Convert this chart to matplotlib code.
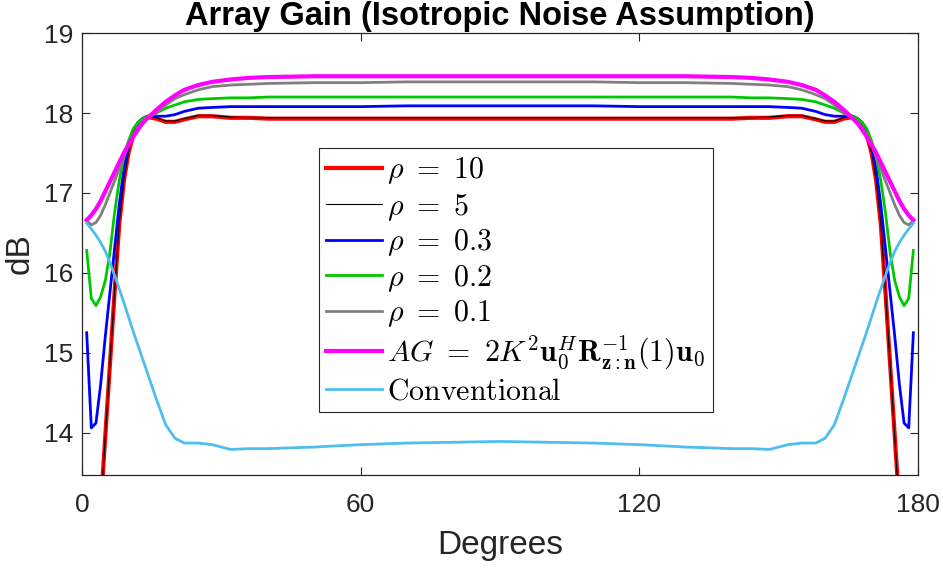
import matplotlib.pyplot as plt

plt.rcParams['font.family'] = ['Liberation Sans', 'DejaVu Sans']
plt.rcParams['mathtext.fontset'] = 'cm'

deg = [1, 2, 3, 4, 5, 6, 7, 8, 9, 10, 11, 12, 13, 14, 16, 18, 20, 22, 25, 28, 32, 36, 40,
       50, 60, 70, 80, 90, 100, 110, 120, 130,
       140, 144, 148, 152, 155, 158, 160, 162, 164,
       166, 167, 168, 169, 170, 171, 172, 173, 174, 175, 176, 177, 178, 179]

rho10 = [10.1, 11.1, 12.1, 13.05, 13.95, 14.85, 15.75, 16.6, 17.15, 17.5, 17.72, 17.85, 17.92, 17.95,
         17.93, 17.89, 17.89, 17.92, 17.96, 17.96, 17.94, 17.94, 17.93, 17.93, 17.93, 17.93, 17.93, 17.93,
         17.93, 17.93, 17.93, 17.93, 17.93, 17.94, 17.94, 17.96, 17.96, 17.92, 17.89, 17.89, 17.93,
         17.95, 17.92, 17.85, 17.72, 17.5, 17.15, 16.6, 15.75, 14.85, 13.95, 13.05, 12.1, 11.1, 10.1]
rho5 = [10.0, 11.05, 12.08, 13.03, 13.94, 14.85, 15.76, 16.62, 17.16, 17.51, 17.73, 17.86, 17.93, 17.96,
        17.94, 17.9, 17.9, 17.93, 17.97, 17.97, 17.95, 17.94, 17.94, 17.94, 17.94, 17.94, 17.94, 17.94,
        17.94, 17.94, 17.94, 17.94, 17.94, 17.94, 17.95, 17.97, 17.97, 17.93, 17.9, 17.9, 17.94,
        17.96, 17.93, 17.86, 17.73, 17.51, 17.16, 16.62, 15.76, 14.85, 13.94, 13.03, 12.08, 11.05, 10.0]
rho03 = [15.25, 14.06, 14.12, 14.6, 15.2, 15.75, 16.3, 16.85, 17.3, 17.6, 17.78, 17.88, 17.93, 17.96,
         17.96, 17.96, 17.98, 18.02, 18.06, 18.07, 18.08, 18.08, 18.08, 18.08, 18.08, 18.09, 18.09, 18.09,
         18.09, 18.09, 18.08, 18.08, 18.08, 18.08, 18.08, 18.07, 18.06, 18.02, 17.98, 17.96, 17.96,
         17.96, 17.93, 17.88, 17.78, 17.6, 17.3, 16.85, 16.3, 15.75, 15.2, 14.6, 14.12, 14.06, 15.25]
rho02 = [16.28, 15.68, 15.59, 15.7, 15.9, 16.25, 16.75, 17.15, 17.45, 17.65, 17.8, 17.88, 17.93, 17.96,
         18.0, 18.06, 18.1, 18.14, 18.17, 18.18, 18.19, 18.19, 18.2, 18.2, 18.2, 18.2, 18.2, 18.2,
         18.2, 18.2, 18.2, 18.2, 18.2, 18.19, 18.19, 18.18, 18.17, 18.14, 18.1, 18.06, 18.0,
         17.96, 17.93, 17.88, 17.8, 17.65, 17.45, 17.15, 16.75, 16.25, 15.9, 15.7, 15.59, 15.68, 16.28]
rho01 = [16.65, 16.6, 16.63, 16.72, 16.85, 17.0, 17.15, 17.3, 17.45, 17.6, 17.72, 17.82, 17.89, 17.94,
         18.0, 18.1, 18.18, 18.23, 18.29, 18.33, 18.35, 18.36, 18.37, 18.38, 18.38, 18.39, 18.39, 18.39,
         18.39, 18.39, 18.38, 18.38, 18.37, 18.36, 18.35, 18.33, 18.29, 18.23, 18.18, 18.1, 18.0,
         17.94, 17.89, 17.82, 17.72, 17.6, 17.45, 17.3, 17.15, 17.0, 16.85, 16.72, 16.63, 16.6, 16.65]
ag = [16.66, 16.72, 16.8, 16.9, 17.02, 17.14, 17.26, 17.38, 17.5, 17.6, 17.7, 17.79, 17.87, 17.93,
      18.04, 18.14, 18.22, 18.29, 18.35, 18.39, 18.42, 18.44, 18.45, 18.46, 18.46, 18.46, 18.46, 18.46,
      18.46, 18.46, 18.46, 18.46, 18.45, 18.44, 18.42, 18.39, 18.35, 18.29, 18.22, 18.14, 18.04,
      17.93, 17.87, 17.79, 17.7, 17.6, 17.5, 17.38, 17.26, 17.14, 17.02, 16.9, 16.8, 16.72, 16.66]
conv = [16.62, 16.55, 16.47, 16.38, 16.27, 16.13, 15.97, 15.8, 15.63, 15.45, 15.27, 15.1, 14.93, 14.76,
        14.42, 14.1, 13.93, 13.87, 13.87, 13.85, 13.79, 13.8, 13.8, 13.82, 13.85, 13.87, 13.88, 13.89,
        13.88, 13.87, 13.85, 13.82, 13.8, 13.8, 13.79, 13.85, 13.87, 13.87, 13.93, 14.1, 14.42,
        14.76, 14.93, 15.1, 15.27, 15.45, 15.63, 15.8, 15.97, 16.13, 16.27, 16.38, 16.47, 16.55, 16.62]

labels = [r'$\rho\ =\ 10$', r'$\rho\ =\ 5$', r'$\rho\ =\ 0.3$', r'$\rho\ =\ 0.2$', r'$\rho\ =\ 0.1$',
          r'$AG\ =\ 2K^2\mathbf{u}_0^H\mathbf{R}_{\mathbf{z:n}}^{-1}(1)\mathbf{u}_0$',
          r'$\mathrm{Conventional}$']

fig = plt.figure(figsize=(9.43, 5.68), dpi=100)
ax = fig.add_axes([0.087, 0.1637, 0.8865, 0.778])

ax.plot(deg, rho10, color='#ff0000', lw=3.0, label=labels[0])
ax.plot(deg, rho5, color='black', lw=0.8, label=labels[1])
ax.plot(deg, rho03, color='#0000ff', lw=2.0, label=labels[2])
ax.plot(deg, rho02, color='#00c800', lw=2.0, label=labels[3])
ax.plot(deg, rho01, color='#808080', lw=2.0, label=labels[4])
ax.plot(deg, ag, color='#ff00ff', lw=3.0, label=labels[5])
ax.plot(deg, conv, color='#4dbeee', lw=2.0, label=labels[6])

ax.set_xlim(0, 180)
ax.set_ylim(13.47, 19)
ax.set_xticks([0, 60, 120, 180])
ax.set_yticks([14, 15, 16, 17, 18, 19])
ax.tick_params(direction='in', length=6, width=0.8, labelsize=19, colors='#262626',
               top=True, right=True)
ax.tick_params(axis='x', pad=13)
ax.tick_params(axis='y', pad=6)
for s in ax.spines.values():
    s.set_color('#262626')
    s.set_linewidth(0.9)

ax.set_xlabel('Degrees', fontsize=24, color='#262626', labelpad=9)
ax.set_ylabel('dB', fontsize=24, color='#262626', labelpad=6)
ax.set_title('Array Gain (Isotropic Noise Assumption)', fontsize=23.5, fontweight='bold', pad=6)

leg = ax.legend(loc='upper left', bbox_to_anchor=(319 / 943, 1 - 148 / 568),
                bbox_transform=fig.transFigure, fontsize=21.5, fancybox=False,
                framealpha=1, edgecolor='#262626', handlelength=1.87, handletextpad=0.17,
                labelspacing=0.16, borderaxespad=0, borderpad=0.25)
leg.get_frame().set_linewidth(0.8)

fig.savefig('out.png', dpi=100)
